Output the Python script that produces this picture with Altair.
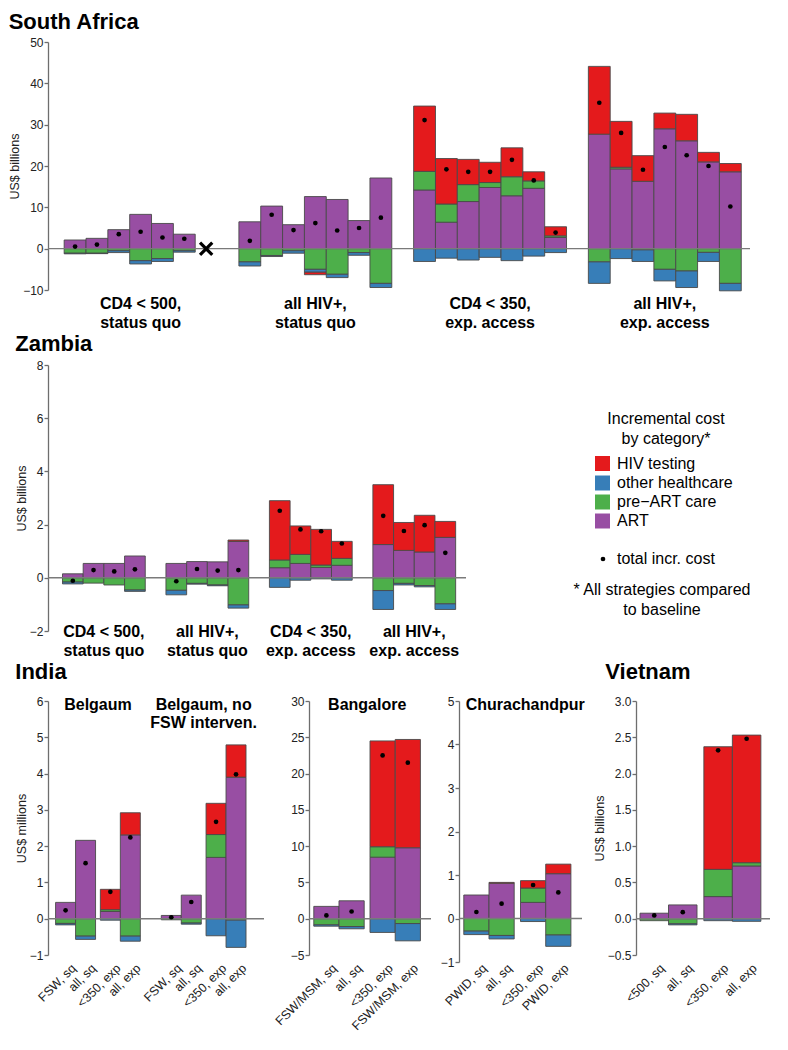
import altair as alt
import pandas as pd

FONT = "Liberation Sans, Arial, Helvetica, sans-serif"
RED, BLUE, GREEN, PURPLE = "#E41A1C", "#377EB8", "#4DAF4A", "#984EA3"
STACK_ORDER = ["ART", "pre-ART care", "other healthcare", "HIV testing"]
LEGEND_ORDER = ["HIV testing", "other healthcare", "pre-ART care", "ART"]
LEGEND_LABELS = ["HIV testing", "other healthcare", "pre\u2212ART care", "ART"]
LEGEND_COLORS = [RED, BLUE, GREEN, PURPLE]

# ---------------- South Africa (US$ billions) ----------------
SA_GROUPS = ["CD4 < 500,\nstatus quo", "all HIV+,\nstatus quo",
             "CD4 < 350,\nexp. access", "all HIV+,\nexp. access"]
SA_SIZES = [6, 7, 7, 7]
SA_ART = [2.1, 2.5, 4.6, 8.3, 6.1, 3.5,
          6.5, 10.3, 5.8, 12.6, 11.9, 6.8, 17.1,
          14.2, 6.4, 11.4, 14.8, 12.8, 14.6, 2.7,
          27.7, 19.3, 16.3, 29.0, 26.1, 21.0, 18.6]
SA_PREART = [-1.1, -1.1, -0.5, -2.9, -2.4, -0.5,
             -3.2, -1.65, -0.5, -5.0, -6.2, -0.95, -8.4,
             4.5, 4.4, 4.1, 1.2, 4.6, 1.8, 0.4,
             -3.2, 0.4, -0.3, -5.0, -5.4, -0.9, -8.4]
SA_OTHER = [-0.15, -0.1, -0.45, -0.8, -0.7, -0.35,
            -1.0, -0.25, -0.6, -0.7, -0.8, -0.65, -1.0,
            -3.1, -2.3, -2.75, -2.1, -2.9, -1.8, -0.95,
            -5.2, -2.4, -2.8, -2.8, -4.0, -2.2, -1.8]
SA_TEST = [0, 0, 0, 0, 0, 0,
           0, 0, 0, -0.6, 0, 0, 0,
           15.8, 11.0, 6.1, 4.9, 7.0, 2.2, 2.2,
           16.4, 11.1, 6.2, 3.8, 6.4, 2.3, 2.0]
SA_TOTAL = [0.5, 1.0, 3.5, 4.1, 2.7, 2.4,
            1.9, 8.2, 4.5, 6.2, 4.4, 5.0, 7.5,
            31.1, 19.2, 18.6, 18.6, 21.5, 16.5, 3.9,
            35.3, 28.0, 19.1, 24.6, 22.6, 20.0, 10.2]
SA_MISSING = [(0, 6)]  # (group, slot) of the strategy shown as a cross
SA_TICKS = [-10, 0, 10, 20, 30, 40, 50]

# ---------------- Zambia (US$ billions) ----------------
Z_GROUPS = SA_GROUPS
Z_SIZES = [4, 4, 4, 4]
Z_ART = [0.15, 0.54, 0.54, 0.82, 0.54, 0.61, 0.60, 1.37,
         0.38, 0.54, 0.39, 0.47, 1.25, 1.03, 0.97, 1.52]
Z_PREART = [-0.16, -0.20, -0.27, -0.46, -0.47, -0.21, -0.27, -1.02,
            0.29, 0.34, 0.09, 0.26, -0.48, -0.21, -0.29, -0.98]
Z_OTHER = [-0.07, 0, 0, -0.05, -0.17, -0.03, -0.03, -0.12,
           -0.36, -0.09, -0.04, -0.09, -0.71, -0.06, -0.05, -0.21]
Z_TEST = [0, 0, 0, 0, 0, 0, 0, 0.05,
          2.23, 1.07, 1.34, 0.64, 2.25, 1.05, 1.38, 0.60]
Z_TOTAL = [-0.11, 0.29, 0.24, 0.32, -0.13, 0.33, 0.27, 0.29,
           2.52, 1.82, 1.75, 1.29, 2.33, 1.76, 1.98, 0.94]
Z_TICKS = [-2, 0, 2, 4, 6, 8]

# ---------------- India (US$ millions) ----------------
BEL_TITLES = ["Belgaum", "Belgaum, no\nFSW interven."]
BEL_LABELS = ["FSW, sq", "all, sq", "<350, exp", "all, exp"] * 2
BEL_ART = [0.45, 2.16, 0.20, 2.31, 0.09, 0.65, 1.69, 3.90]
BEL_PREART = [-0.13, -0.48, 0.05, -0.48, -0.03, -0.12, 0.63, -0.04]
BEL_OTHER = [-0.04, -0.09, -0.04, -0.14, 0, -0.03, -0.47, -0.75]
BEL_TEST = [0, 0, 0.56, 0.61, 0, 0, 0.86, 0.89]
BEL_TOTAL = [0.23, 1.53, 0.74, 2.24, 0.04, 0.46, 2.67, 3.98]
BEL_TICKS = [-1, 0, 1, 2, 3, 4, 5, 6]

BAN_TITLE = "Bangalore"
BAN_LABELS = ["FSW/MSM, sq", "all, sq", "<350, exp", "FSW/MSM, exp"]
BAN_ART = [1.70, 2.47, 8.48, 9.78]
BAN_PREART = [-0.85, -1.08, 1.44, -0.67]
BAN_OTHER = [-0.18, -0.31, -1.89, -2.38]
BAN_TEST = [0, 0, 14.58, 14.92]
BAN_TOTAL = [0.45, 0.99, 22.5, 21.5]
BAN_TICKS = [-5, 0, 5, 10, 15, 20, 25, 30]

CHU_TITLE = "Churachandpur"
CHU_LABELS = ["PWID, sq", "all, sq", "<350, exp", "PWID, exp"]
CHU_ART = [0.54, 0.81, 0.37, 1.03]
CHU_PREART = [-0.29, -0.39, 0.33, -0.38]
CHU_OTHER = [-0.08, -0.08, -0.07, -0.26]
CHU_TEST = [0, 0.02, 0.17, 0.22]
CHU_TOTAL = [0.15, 0.34, 0.77, 0.60]
CHU_TICKS = [-1, 0, 1, 2, 3, 4, 5]

# ---------------- Vietnam (US$ billions) ----------------
VN_LABELS = ["<500, sq", "all, sq", "<350, exp", "all, exp"]
VN_ART = [0.076, 0.19, 0.305, 0.727]
VN_PREART = [-0.027, -0.07, 0.375, 0.045]
VN_OTHER = [0, -0.015, -0.027, -0.036]
VN_TEST = [0, 0, 1.69, 1.758]
VN_TOTAL = [0.045, 0.09, 2.32, 2.48]
VN_TICKS = [-0.5, 0.0, 0.5, 1.0, 1.5, 2.0, 2.5, 3.0]

COLOR = alt.Color("cat:N", scale=alt.Scale(domain=LEGEND_ORDER, range=LEGEND_COLORS), legend=None)


def grouped_slots(sizes, stride):
    return [g * stride + j for g, n in enumerate(sizes) for j in range(n)]


def paired_slots(n_groups, pair_gap, group_gap):
    xs = []
    for g in range(n_groups):
        base = g * (4 + pair_gap + group_gap)
        for p in range(2):
            for b in range(2):
                xs.append(base + p * (2 + pair_gap) + b)
    return xs


def segments(xs, art, prea, other, test):
    rows = []
    for i, x in enumerate(xs):
        pos = neg = 0.0
        for cat, vals in zip(STACK_ORDER, [art, prea, other, test]):
            v = vals[i]
            if v == 0:
                continue
            if v > 0:
                y0, y1 = pos, pos + v
                pos = y1
            else:
                y0, y1 = neg, neg + v
                neg = y1
            rows.append(dict(x0=x, x1=x + 1, y0=y0, y1=y1, cat=cat))
    return pd.DataFrame(rows)


def panel(xs, art, prea, other, test, total, xdom, ydom, ticks, width, height,
          ytitle, title, yfmt="d", extra=()):
    xsc = alt.Scale(domain=xdom, nice=False, zero=False)
    ysc = alt.Scale(domain=ydom, nice=False, zero=False)
    yax = alt.Axis(values=ticks, format=yfmt, title=ytitle, grid=False,
                   domainColor="#6e6e6e", tickColor="#6e6e6e", domainWidth=1.3,
                   tickWidth=1.3, tickSize=4, labelColor="#222", labelFontSize=12,
                   labelPadding=1, titleFontSize=12.5, titleFontWeight="normal",
                   titleColor="#222", titlePadding=1, labelFont=FONT, titleFont=FONT)
    seg = segments(xs, art, prea, other, test)
    bars = alt.Chart(seg).mark_rect(stroke="#4a4a4a", strokeWidth=0.9).encode(
        x=alt.X("x0:Q", scale=xsc, axis=None), x2="x1:Q",
        y=alt.Y("y0:Q", scale=ysc, axis=yax), y2="y1:Q", color=COLOR)
    zero = alt.Chart(pd.DataFrame({"z": [0]})).mark_rule(color="#7a7a7a", strokeWidth=1.4).encode(
        y=alt.Y("z:Q", scale=ysc, axis=yax), x=alt.value(0), x2=alt.value(width))
    dots = alt.Chart(pd.DataFrame({"xc": [x + 0.5 for x in xs], "total": total})).mark_circle(
        size=22, color="black", opacity=1).encode(
        x=alt.X("xc:Q", scale=xsc, axis=None), y=alt.Y("total:Q", scale=ysc, axis=yax))
    layers = [bars, zero, dots] + [f(xsc, ysc, yax) for f in extra]
    return alt.layer(*layers).properties(width=width, height=height, title=title)


def group_labels(centers, labels, ypix, size=16):
    def f(xsc, ysc, yax):
        df = pd.DataFrame({"xc": centers, "lab": labels})
        return alt.Chart(df).mark_text(font=FONT, fontSize=size, fontWeight="bold", lineBreak="\n",
                                       lineHeight=19, baseline="top", color="black").encode(
            x=alt.X("xc:Q", scale=xsc, axis=None), y=alt.value(ypix), text="lab:N")
    return f


def rot_labels(xs, labels, ypix, slot_px):
    def f(xsc, ysc, yax):
        df = pd.DataFrame({"lx": [x + 0.5 + 4.0 / slot_px for x in xs], "lab": labels})
        return alt.Chart(df).mark_text(font=FONT, fontSize=12.5, angle=315, align="right",
                                       baseline="top", color="#222").encode(
            x=alt.X("lx:Q", scale=xsc, axis=None), y=alt.value(ypix), text="lab:N")
    return f


def panel_titles(centers, labels, dx=0):
    def f(xsc, ysc, yax):
        df = pd.DataFrame({"xc": centers, "lab": labels})
        return alt.Chart(df).mark_text(font=FONT, fontSize=16, fontWeight="bold", lineBreak="\n",
                                       lineHeight=17.5, baseline="alphabetic", dx=dx,
                                       color="black").encode(
            x=alt.X("xc:Q", scale=xsc, axis=None), y=alt.value(9), text="lab:N")
    return f


def cross_marker(points):
    def f(xsc, ysc, yax):
        df = pd.DataFrame({"xc": [p[0] + 0.5 for p in points], "y": [0] * len(points)})
        return alt.Chart(df).mark_point(shape="M-1,-1L1,1M1,-1L-1,1", size=150, strokeWidth=3.2,
                                        color="black", opacity=1, filled=False).encode(
            x=alt.X("xc:Q", scale=xsc, axis=None), y=alt.Y("y:Q", scale=ysc, axis=yax))
    return f


def ttl(text, dx=0, offset=6):
    return alt.TitleParams(text=text, anchor="start", frame="bounds", fontSize=22, font=FONT,
                           fontWeight="bold", color="black", offset=offset, dx=dx)


# ---- South Africa panel
SA_H = 248
sa_x = grouped_slots(SA_SIZES, 8)
sa_centers = [8 * g + 3.5 for g in range(4)]
sa_cross = [(8 * g + s,) for g, s in SA_MISSING]
sa = panel(sa_x, SA_ART, SA_PREART, SA_OTHER, SA_TEST, SA_TOTAL,
           [-0.74, 31.4], [-10, 50], SA_TICKS, 702, SA_H, "US$ billions", ttl("South Africa", 0, 2),
           extra=[group_labels(sa_centers, SA_GROUPS, SA_H + 6), cross_marker(sa_cross)])

# ---- Zambia panel
Z_H = 266
z_x = grouped_slots(Z_SIZES, 5)
z_centers = [5 * g + 2 for g in range(4)]
zam = panel(z_x, Z_ART, Z_PREART, Z_OTHER, Z_TEST, Z_TOTAL,
            [-0.7, 19.5], [-2, 8], Z_TICKS, 418, Z_H, "US$ billions", ttl("Zambia", 0, 3),
            extra=[group_labels(z_centers, Z_GROUPS, Z_H - 7)])

# ---- legend (pixel positions relative to the legend view)
LX0, LY0 = 473, 372
leg_title = pd.DataFrame({"tx": [672 - LX0] * 2, "ty": [426 - LY0, 446 - LY0],
                          "t": ["Incremental cost", "by category*"]})
leg_items = pd.DataFrame({"sx": [608.5 - LX0] * 4, "lx": [623 - LX0] * 4,
                          "ty": [470.5 - LY0, 490 - LY0, 509 - LY0, 528 - LY0],
                          "cat": LEGEND_ORDER, "t": LEGEND_LABELS})
leg_dot = pd.DataFrame({"sx": [609 - LX0], "lx": [623 - LX0], "ty": [566 - LY0], "t": ["total incr. cost"]})
leg_note = pd.DataFrame({"tx": [668 - LX0] * 2, "ty": [597 - LY0, 617 - LY0],
                         "t": ["* All strategies compared", "to baseline"]})
TXT = dict(font=FONT, fontSize=16, color="black", baseline="middle")
legend = alt.layer(
    alt.Chart(leg_title).mark_text(align="center", **TXT).encode(
        x=alt.X("tx:Q", scale=None), y=alt.Y("ty:Q", scale=None), text="t:N"),
    alt.Chart(leg_items).mark_square(size=225, opacity=1).encode(
        x=alt.X("sx:Q", scale=None), y=alt.Y("ty:Q", scale=None), color=COLOR),
    alt.Chart(leg_items).mark_text(align="left", **TXT).encode(
        x=alt.X("lx:Q", scale=None), y=alt.Y("ty:Q", scale=None), text="t:N"),
    alt.Chart(leg_dot).mark_circle(size=22, color="black", opacity=1).encode(
        x=alt.X("sx:Q", scale=None), y=alt.Y("ty:Q", scale=None)),
    alt.Chart(leg_dot).mark_text(align="left", **TXT).encode(
        x=alt.X("lx:Q", scale=None), y=alt.Y("ty:Q", scale=None), text="t:N"),
    alt.Chart(leg_note).mark_text(align="center", **TXT).encode(
        x=alt.X("tx:Q", scale=None), y=alt.Y("ty:Q", scale=None), text="t:N"),
).properties(width=270, height=Z_H, title=ttl(" ", 0, 3))

# ---- India / Vietnam panels
IN_H = 254
LAB_Y = IN_H + 7
bel_x = paired_slots(2, 0.24, 1.05)
bel_centers = [g * (4 + 0.24 + 1.05) + 2.12 for g in range(2)]
bel = panel(bel_x, BEL_ART, BEL_PREART, BEL_OTHER, BEL_TEST, BEL_TOTAL,
            [-0.38, 10.43], [-1, 6], BEL_TICKS, 216, IN_H, "US$ millions", ttl("India", 0, 11),
            extra=[rot_labels(bel_x, BEL_LABELS, LAB_Y, 20), panel_titles(bel_centers, BEL_TITLES)])

ban_x = paired_slots(1, 0.23, 0)
ban = panel(ban_x, BAN_ART, BAN_PREART, BAN_OTHER, BAN_TEST, BAN_TOTAL,
            [-0.19, 4.65], [-5, 30], BAN_TICKS, 122, IN_H, None, ttl(" ", 0, 11),
            extra=[rot_labels(ban_x, BAN_LABELS, LAB_Y, 25), panel_titles([2.12], [BAN_TITLE])])

chu_x = paired_slots(1, 0.25, 0)
chu = panel(chu_x, CHU_ART, CHU_PREART, CHU_OTHER, CHU_TEST, CHU_TOTAL,
            [-0.19, 4.69], [-1, 5], CHU_TICKS, 123, IN_H + 7, None, ttl(" ", 0, 11),
            extra=[rot_labels(chu_x, CHU_LABELS, LAB_Y, 25), panel_titles([2.12], [CHU_TITLE], dx=8)])

vn_x = paired_slots(1, 0.24, 0)
vn = panel(vn_x, VN_ART, VN_PREART, VN_OTHER, VN_TEST, VN_TOTAL,
           [-0.14, 4.56], [-0.5, 3.0], VN_TICKS, 134, IN_H, "US$ billions", ttl("Vietnam", 12, 11),
           yfmt=".1f", extra=[rot_labels(vn_x, VN_LABELS, LAB_Y, 29)])

row2 = alt.hconcat(zam, legend, spacing=0)
row3 = alt.hconcat(bel, ban, chu, vn, spacing=8)

chart = alt.vconcat(sa, row2, row3, spacing=2).properties(
    padding={"top": 3, "left": 0, "right": 0, "bottom": 0}).configure(
    font=FONT).configure_view(stroke=None)

chart.save("out.html", embed_options={"renderer": "svg", "actions": False})
